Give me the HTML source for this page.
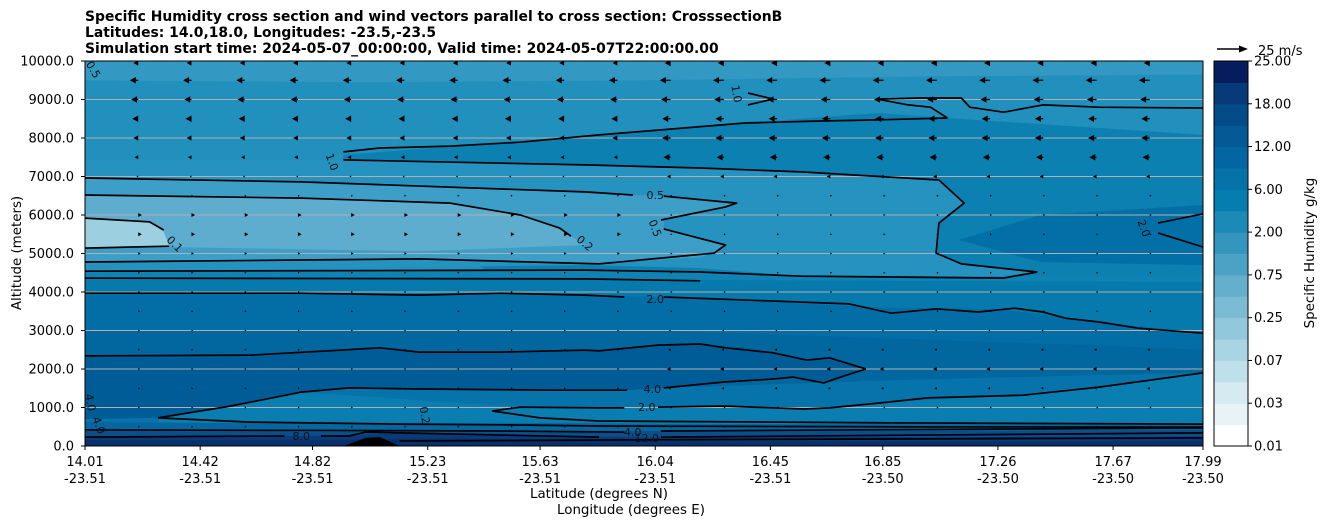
<!DOCTYPE html>
<html><head><meta charset="utf-8"><style>
html,body{margin:0;padding:0;background:#fff;width:1326px;height:526px;overflow:hidden}
svg{display:block;font-family:"DejaVu Sans","Liberation Sans",sans-serif}
</style></head><body>
<svg id="chart" width="1326" height="526" viewBox="0 0 1326 526" xmlns="http://www.w3.org/2000/svg">
<g font-size="13.9" font-weight="bold" fill="#000">
<text x="85" y="21">Specific Humidity cross section and wind vectors parallel to cross section: CrosssectionB</text>
<text x="85" y="37">Latitudes: 14.0,18.0, Longitudes: -23.5,-23.5</text>
<text x="85" y="53">Simulation start time: 2024-05-07_00:00:00, Valid time: 2024-05-07T22:00:00.00</text>
</g>
<g id="plot"></g>
<text x="21" y="253" font-size="13.4" text-anchor="middle" transform="rotate(-90 21 253)">Altitude (meters)</text>
<text x="599" y="498" font-size="13.4" text-anchor="middle">Latitude (degrees N)</text>
<text x="631" y="514" font-size="13.4" text-anchor="middle">Longitude (degrees E)</text>
<text x="1314" y="253" font-size="13.4" text-anchor="middle" transform="rotate(-90 1314 253)">Specific Humidity g/kg</text>
<g>
<line x1="1217" y1="49" x2="1240" y2="49" stroke="#000" stroke-width="1.6"/>
<polygon points="1248,49 1239,45.5 1239,52.5" fill="#000"/>
<text x="1258" y="55" font-size="13">25 m/s</text>
</g>
</svg>
<script>
// ---- data ----
const tickLats = [14.01,14.42,14.82,15.23,15.63,16.04,16.45,16.85,17.26,17.67,17.99];
const tickLons = ["-23.51","-23.51","-23.51","-23.51","-23.51","-23.51","-23.51","-23.50","-23.50","-23.50","-23.50"];
const altTicks = [0,1000,2000,3000,4000,5000,6000,7000,8000,9000,10000];
const bandLats = [14.01,14.42,14.82,15.23,15.63,16.04,16.45,16.85,17.26,17.67,17.99];
const cbLabels = ["0.01","0.03","0.07","0.25","0.75","2.00","6.00","12.00","18.00","25.00"];
const cbColors = ["#ffffff","#e9f3f7","#d5eaf1","#bfdfea","#a8d4e3","#92c8dc","#7bbcd4","#63afcc","#4ba2c4","#3496bd","#1c8ab6","#067daf","#0373a8","#0267a0","#035a95","#044c88","#063a78","#061c5c"];
// filled regions (lat / altitude m)
const topLat = [14.01,15.0,16.0,17.0,17.99,17.99,14.01], topAlt = [9500,9450,9500,9600,9650,10000,10000];
const rightLat = [14.93,15.84,16.36,16.83,17.08,17.99,17.99,15.5,14.93], rightAlt = [7560,8080,8390,8650,8520,8080,4200,4200,7430];
const midLat = [14.93,15.79,16.20,16.56,17.05,17.14,17.05,17.04,17.13,17.40,17.28,16.56,16.20,15.79,14.01,14.01], midAlt = [7430,7300,7220,7120,6910,6310,5790,5010,4730,4520,4410,4410,4620,4700,4540,7430];
const dryLat = [14.01,14.78,15.79,15.96,16.07,16.20,16.33,16.29,16.07,16.07,16.16,16.29,16.25,16.20,15.84,15.20,14.78,14.01], dryAlt = [6960,6860,6570,6520,6490,6390,6260,6210,5870,5640,5500,5220,5010,4900,4750,4860,4830,4780];
const drierLat = [14.01,14.78,15.31,15.56,15.70,15.74,15.79,15.20,14.31,14.01], drierAlt = [6520,6440,6310,6000,5660,5450,5220,5060,5170,5140];
const driestLat = [14.01,14.24,14.29,14.31,14.01], driestAlt = [5920,5820,5560,5190,5140];
const moistLat = [17.12,17.41,17.99,17.99,17.41], moistAlt = [5350,6000,6260,4700,4780];
const band1Top = [4540,4540,4540,4540,4560,4540,4450,4420,4410,4400,4400];
const band2Top = [4360,4340,4340,4340,4340,4320,4300,4290,4280,4270,4260];
const band3Top = [3970,3970,3950,3950,3940,3870,3740,3600,3550,3190,2930];
const band4Top = [3000,3000,3000,3000,3000,3000,2900,2800,2700,2600,2500];
const band4bTop = [2000,1700,1550,1500,1500,1500,1600,1700,1780,1850,1900];
const pocketLat = [14.01,14.60,14.92,15.06,15.20,15.49,15.79,15.95,16.20,16.38,16.46,16.58,16.66,16.79,16.70,16.64,16.53,16.46,16.28,16.07,15.94,15.70,15.20,14.95,14.78,14.53,14.27,14.01];
const pocketAlt = [2340,2360,2490,2550,2440,2440,2490,2570,2650,2540,2420,2230,2290,2000,1790,1640,1790,1740,1660,1510,1450,1450,1480,1510,1400,1040,730,700];
const stripLat = [14.27,14.53,14.78,15.46,15.84,16.07,16.28,16.57,16.87,17.35,17.62,17.99,17.99,14.27], stripAlt = [730,1040,1400,1060,990,1010,1040,960,1140,1320,1530,1900,570,570];
const band7Top = [620,600,600,600,600,580,570,570,570,570,570];
const band8Top = [420,420,360,360,360,390,390,390,400,410,420];
const band9Top = [260,260,260,340,240,230,230,230,230,240,250];
const band10Top = [150,150,150,200,150,120,120,120,120,120,130];
const terrainLat = [14.93,15.01,15.06,15.13], terrainAlt = [0,210,230,0];
// contour lines
const contourLines = [
 {lat:[14.01,14.78,15.79,15.96],alt:[6960,6860,6600,6520]},
 {lat:[16.07,16.33,16.29,16.06],alt:[6490,6310,6210,5870]},
 {lat:[16.07,16.29,16.25,15.84,15.20,14.78,14.01],alt:[5640,5220,5010,4730,4860,4830,4780]},
 {lat:[14.01,14.78,15.31,15.56,15.70,15.74],alt:[6520,6440,6310,6000,5660,5450]},
 {lat:[14.01,14.24,14.29],alt:[5920,5820,5610]},
 {lat:[14.31,14.01],alt:[5190,5140]},
 {lat:[14.01,15.79,16.20,16.56,17.28,17.40],alt:[4540,4570,4520,4410,4360,4520]},
 {lat:[14.93,15.79,16.20,16.56,17.05,17.14,17.05,17.04,17.13,17.40],alt:[7430,7300,7220,7120,6910,6310,5790,5010,4730,4520]},
 {lat:[14.01,15.79,16.20],alt:[4360,4340,4290]},
 {lat:[14.93,15.06,15.31,15.56,15.84,16.36,16.61,16.83,17.08],alt:[7640,7740,7790,7890,8080,8390,8440,8470,8520]},
 {lat:[16.83,16.94,17.02,17.08],alt:[9010,8860,8800,8520]},
 {lat:[16.83,16.98,17.13,17.16,17.28,17.42,17.62,17.99],alt:[9010,9040,9040,8800,8670,8860,8800,8780]},
 {lat:[16.37,16.46,16.37],alt:[9170,9010,8860]},
 {lat:[17.83,17.99],alt:[5790,6030]},
 {lat:[17.83,17.99],alt:[5530,5170]},
 {lat:[14.01,14.78,15.20,15.49,15.79,15.93],alt:[3970,3970,3920,3970,3920,3870]},
 {lat:[16.07,16.73,16.88,17.04,17.19,17.32,17.42,17.50,17.62,17.76,17.99],alt:[3870,3690,3450,3560,3480,3580,3480,3320,3220,3060,2930]},
 {lat:[14.01,14.60,14.92,15.06,15.20,15.49,15.79,15.84,16.05,16.20,16.29,16.46,16.58,16.66,16.79],alt:[2340,2360,2490,2550,2440,2440,2490,2470,2620,2650,2550,2420,2230,2290,2000]},
 {lat:[16.79,16.70,16.64,16.53,16.46,16.28,16.07],alt:[2000,1790,1640,1790,1740,1660,1510]},
 {lat:[15.94,15.70,15.20,14.95,14.78,14.53,14.27],alt:[1450,1450,1480,1510,1400,1040,730]},
 {lat:[15.46,15.56,15.84,15.93],alt:[910,1010,990,990]},
 {lat:[16.05,16.28,16.57,16.66,16.87,17.01,17.35,17.62,17.99],alt:[1010,1040,960,990,1140,1250,1320,1530,1900]},
 {lat:[15.46,15.63,15.84,16.91,17.99],alt:[910,730,650,600,570]},
 {lat:[14.27,14.60,15.13,15.49,15.84,16.91,17.99],alt:[730,620,570,550,520,500,490]},
 {lat:[14.01,15.49,15.93],alt:[420,390,360]},
 {lat:[16.06,17.99],alt:[390,470]},
 {lat:[14.01,14.72],alt:[230,260]},
 {lat:[14.85,14.95,15.01,15.13,15.84],alt:[260,260,360,340,230]},
 {lat:[16.06,17.99],alt:[230,340]},
 {lat:[15.13,16.0,17.99],alt:[130,160,210]}
];
const labelText = ["0.5","0.5","0.2","0.1","1.0","1.0","2.0","2.0","4.0","2.0","4.0","12.0","8.0","0.2","4.0","4.0","0.5"];
const labelLat = [16.04,16.04,15.79,14.33,14.89,16.33,17.78,16.04,16.03,16.01,15.96,16.01,14.78,15.22,14.03,14.06,14.04];
const labelAlt = [6520,5660,5270,5250,7380,9150,5660,3820,1480,1010,370,210,260,800,1130,540,9780];
const labelRot = [0,70,40,45,70,80,70,0,0,0,0,0,0,80,80,70,60];
// wind (m/s along section)
const windAlts = [500,1000,1500,2000,2500,3000,3500,4000,4500,5000,5500,6000,6500,7000,7500,8000,8500,9000,9500,10000];
const windLeft = [0.3,0.3,0.3,0.3,0.3,0.3,0.3,0.3,0.5,2,3,3,1,-1,-3,-4,-5,-6,-7,-4];
const windRight = [0.3,0.3,-2,-3,-2,-0.5,0.3,0.3,0.3,0.5,0.5,0.5,0.5,-3,-6,-7,-7,-8,-9,-5];

// ---- axes ----
const X0=85,X1=1203,Y0=446,Y1=61;
const X = lat => X0 + (lat-14.01)*(X1-X0)/(17.99-14.01);
const Y = alt => Y0 - alt*(Y0-Y1)/10000;
const NS="http://www.w3.org/2000/svg";
const plot=document.getElementById('plot');
function mk(tag,attrs,parent){const e=document.createElementNS(NS,tag);for(const k in attrs)e.setAttribute(k,attrs[k]);(parent||plot).appendChild(e);return e;}
function polyPts(lats,alts){return lats.map((l,i)=>X(l).toFixed(1)+','+Y(alts[i]).toFixed(1)).join(' ');}

const defs=mk('defs',{});const cp=mk('clipPath',{id:'clip'},defs);mk('rect',{x:X0,y:Y1,width:X1-X0,height:Y0-Y1},cp);
const g=mk('g',{'clip-path':'url(#clip)'});


const bg=mk('rect',{x:X0,y:Y1,width:X1-X0,height:Y0-Y1,fill:'#2290bd'},g);


function polyG(lats,alts,color,name){const p=mk('polygon',{points:polyPts(lats,alts),fill:color},g);

}
function bandG(tops,color,name){polyG(bandLats.concat([17.99,14.01]),tops.concat([0,0]),color,name);}
polyG(topLat,topAlt,'#3399c3','humidity-fill-top');
polyG(rightLat,rightAlt,'#0b80b1','humidity-fill-right-mid');
polyG(midLat,midAlt,'#2592bf','humidity-fill-mid');
polyG(dryLat,dryAlt,'#3d9fc7','humidity-fill-dry');
polyG(drierLat,drierAlt,'#5eadcf','humidity-fill-drier');
polyG(driestLat,driestAlt,'#9ccfe0','humidity-fill-driest');
polyG(moistLat,moistAlt,'#0270a6','humidity-fill-moist-right');
bandG(band1Top,'#0e83b4','humidity-band-1');
bandG(band2Top,'#0679ad','humidity-band-2');
bandG(band3Top,'#036ea5','humidity-band-3');
bandG(band4Top,'#02679f','humidity-band-4');
bandG(band4bTop,'#0674aa','humidity-band-4b');
polyG(pocketLat,pocketAlt,'#005c96','humidity-fill-moist-pocket');
polyG(stripLat,stripAlt,'#0a7eb1','humidity-fill-low-strip');
bandG(band7Top,'#0566a0','humidity-band-7');
bandG(band8Top,'#0a4e8c','humidity-band-8');
bandG(band9Top,'#0a3a7a','humidity-band-9');
bandG(band10Top,'#08306b','humidity-band-10');
polyG(terrainLat,terrainAlt,'#000','terrain');
// gridlines
altTicks.forEach(a=>{const l=mk('line',{x1:X0,x2:X1,y1:Y(a),y2:Y(a),stroke:'#b0b0b0','stroke-width':1},g);

});
// wind arrows
const nCols=21;
for(let r=0;r<windAlts.length;r++){
 for(let k=1;k<nCols;k++){
  const lat=14.01+k*(17.99-14.01)/nCols;
  const u=lat<16.0?windLeft[r]:windRight[r];
  const x=X(lat),y=Y(windAlts[r])+(windAlts[r]>=10000?2:0);
  const dir=u<0?-1:1;
  const L=Math.max(Math.abs(u)*1.2,1.8);
  const hl=Math.min(6,L), hw=hl*0.55;
  const tip=x+dir*L, base=tip-dir*hl;
  const a=mk('g',{},g);
  
  
  if(L>hl+0.5) mk('line',{x1:x,y1:y,x2:base,y2:y,stroke:'#000','stroke-width':1.2},a);
  mk('polygon',{points:`${tip},${y} ${base},${y-hw} ${base},${y+hw}`,fill:'#000'},a);
 }
}
// contours
contourLines.forEach(c=>{const p=mk('polyline',{points:polyPts(c.lat,c.alt),fill:'none',stroke:'#000','stroke-width':1.7,'stroke-linejoin':'round'},g);

});
labelText.forEach((t,i)=>{const x=X(labelLat[i]),y=Y(labelAlt[i]);
const e=mk('text',{x:x,y:y+4,'font-size':11,'text-anchor':'middle',fill:'#111',transform:`rotate(${labelRot[i]} ${x} ${y})`},g);e.textContent=t;

});
// frame
const fr=mk('rect',{x:X0,y:Y1,width:X1-X0,height:Y0-Y1,fill:'none',stroke:'#000','stroke-width':1});


// y ticks
altTicks.forEach(a=>{const y=Y(a);mk('line',{x1:X0-4,x2:X0,y1:y,y2:y,stroke:'#000'});
const t=mk('text',{x:X0-11,y:y+4.5,'font-size':13,'text-anchor':'end'});t.textContent=a.toFixed(1);

});
// x ticks
tickLats.forEach((lat,i)=>{const x=X(lat);mk('line',{x1:x,x2:x,y1:Y0,y2:Y0+4,stroke:'#000'});
const t=mk('text',{x:x,y:466,'font-size':13,'text-anchor':'middle'});t.textContent=lat.toFixed(2);


const t2=mk('text',{x:x,y:483,'font-size':13,'text-anchor':'middle'});t2.textContent=tickLons[i];

});
// colorbar
const CBX=1214,CBW=34,bh=(Y0-Y1)/cbColors.length;
cbColors.forEach((c,i)=>{const r=mk('rect',{x:CBX,y:Y0-(i+1)*bh,width:CBW,height:bh+0.5,fill:c});

});
const cbf=mk('rect',{x:CBX,y:Y1,width:CBW,height:Y0-Y1,fill:'none',stroke:'#000'});


cbLabels.forEach((s,i)=>{const y=Y0-i*(Y0-Y1)/(cbLabels.length-1);mk('line',{x1:CBX+CBW,x2:CBX+CBW+4,y1:y,y2:y,stroke:'#000'});
const t=mk('text',{x:CBX+CBW+6,y:y+4.5,'font-size':13});t.textContent=s;

});
</script>
</body></html>
